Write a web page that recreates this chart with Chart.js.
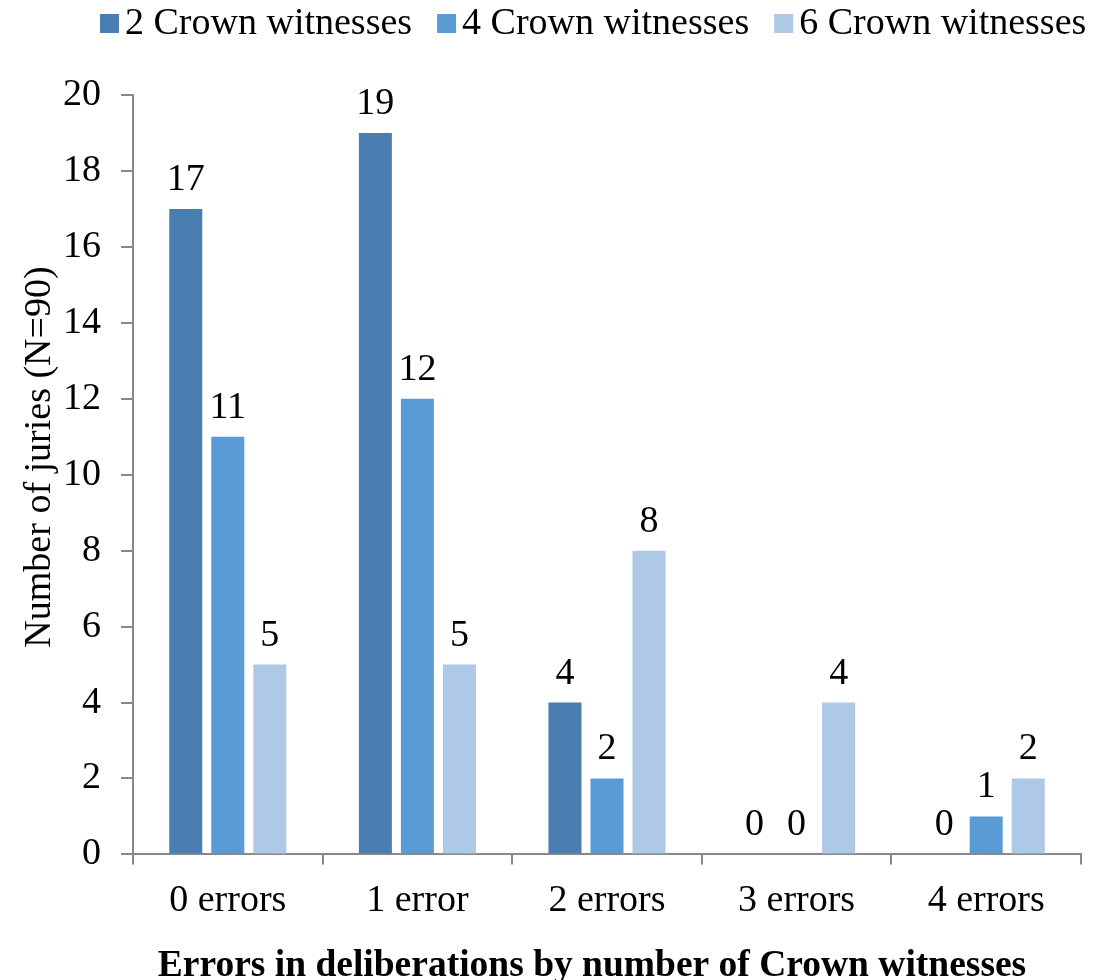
<!DOCTYPE html>
<html>
<head>
<meta charset="utf-8">
<script src="https://cdn.jsdelivr.net/npm/chart.js@4.4.1/dist/chart.umd.min.js"></script>
<style>
  body { margin: 0; background: #fff; }
  #wrap { width: 1109px; height: 980px; }
</style>
</head>
<body>
<div id="wrap"><canvas id="myChart"></canvas></div>
<script>
const ctx = document.getElementById('myChart');

const categories = ['0 errors', '1 error', '2 errors', '3 errors', '4 errors'];
const twoWitnesses = [17, 19, 4, 0, 0];
const fourWitnesses = [11, 12, 2, 0, 1];
const sixWitnesses = [5, 5, 8, 4, 2];
const yTicks = [0, 2, 4, 6, 8, 10, 12, 14, 16, 18, 20];

const serif = '"Liberation Serif", "Times New Roman", serif';
const xTitle = 'Errors in deliberations by number of Crown witnesses';
const yTitle = 'Number of juries (N=90)';

// value labels over every bar, zeros included
const valueLabels = {
  id: 'valueLabels',
  afterDatasetsDraw(chart) {
    const c = chart.ctx;
    c.save();
    c.font = '38px ' + serif;
    c.fillStyle = '#000';
    c.textAlign = 'center';
    c.textBaseline = 'bottom';
    chart.data.datasets.forEach((ds, i) => {
      chart.getDatasetMeta(i).data.forEach((bar, j) => {
        c.fillText(ds.data[j], bar.x, bar.y - 10);
      });
    });
    c.restore();
  }
};

// legend and axis titles drawn by hand
const extras = {
  id: 'extras',
  afterDraw(chart) {
    const c = chart.ctx;
    c.save();
    c.font = '38px ' + serif;
    c.textBaseline = 'middle';
    c.textAlign = 'left';
    let x = 100;
    const y = 24;
    chart.data.datasets.forEach(ds => {
      c.fillStyle = ds.backgroundColor;
      c.fillRect(x, y - 10, 19, 19);
      x += 19 + 6;
      c.fillStyle = '#000';
      c.fillText(ds.label, x, y);
      x += c.measureText(ds.label).width + 25;
    });

    c.save();
    c.translate(40, 457);
    c.rotate(-Math.PI / 2);
    c.textAlign = 'center';
    c.fillText(yTitle, 0, 0);
    c.restore();

    c.font = 'bold 37.5px ' + serif;
    c.textAlign = 'center';
    c.fillText(xTitle, 592, 966);
    c.restore();
  }
};

new Chart(ctx, {
  type: 'bar',
  data: {
    labels: categories,
    datasets: [
      { label: '2 Crown witnesses', data: twoWitnesses, backgroundColor: '#4a7eb0' },
      { label: '4 Crown witnesses', data: fourWitnesses, backgroundColor: '#5b9bd5' },
      { label: '6 Crown witnesses', data: sixWitnesses, backgroundColor: '#aec8e8' }
    ]
  },
  plugins: [valueLabels, extras],
  options: {
    responsive: true,
    maintainAspectRatio: false,
    animation: false,
    layout: { padding: { left: 43, right: 28, top: 95, bottom: 42 } },
    datasets: {
      bar: { categoryPercentage: 0.665, barPercentage: 0.786 }
    },
    plugins: {
      tooltip: { enabled: false },
      legend: { display: false }
    },
    scales: {
      x: {
        grid: {
          display: true,
          drawOnChartArea: false,
          drawTicks: true,
          tickLength: 10,
          color: '#888',
          lineWidth: 2
        },
        border: { color: '#888', width: 2 },
        ticks: {
          color: '#000',
          padding: 14,
          font: { family: serif, size: 38 }
        }
      },
      y: {
        min: 0,
        max: 20,
        afterBuildTicks(axis) {
          axis.ticks = yTicks.map(v => ({ value: v }));
        },
        grid: {
          display: true,
          drawOnChartArea: false,
          drawTicks: true,
          tickLength: 12,
          color: '#888',
          lineWidth: 2
        },
        border: { color: '#888', width: 2 },
        ticks: {
          color: '#000',
          padding: 20,
          font: { family: serif, size: 38 }
        }
      }
    }
  }
});
</script>
</body>
</html>
